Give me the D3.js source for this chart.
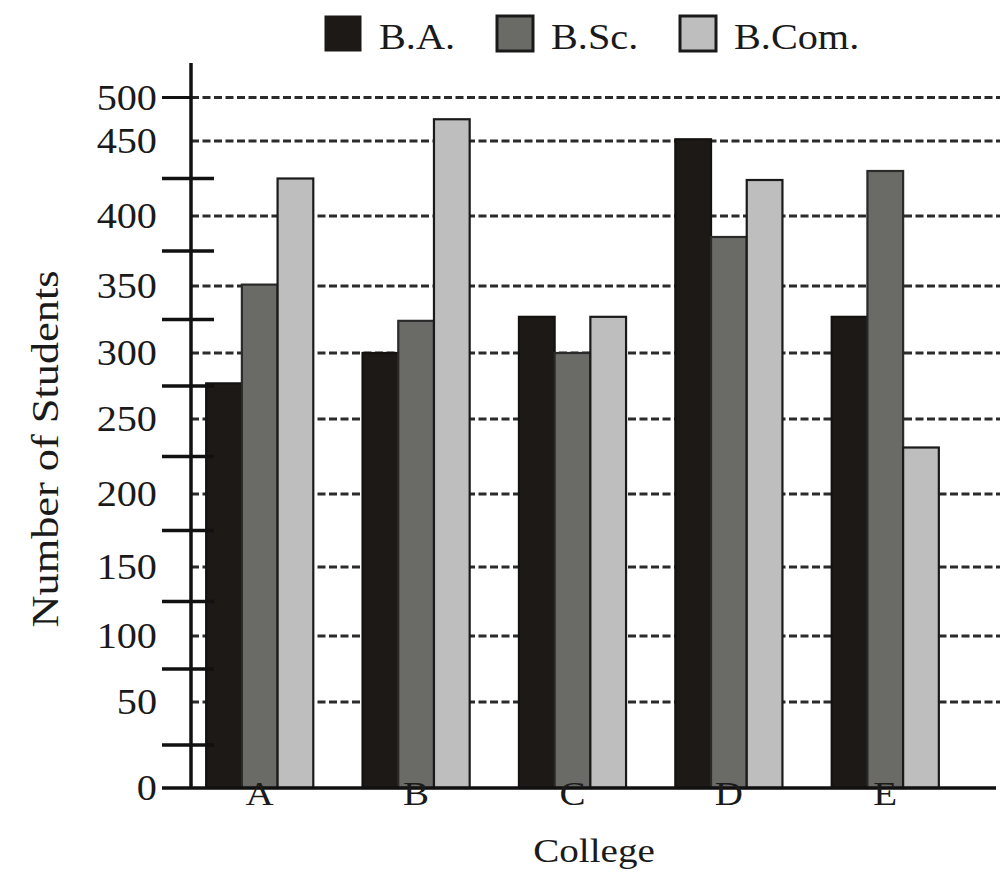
<!DOCTYPE html>
<html>
<head>
<meta charset="utf-8">
<script src="https://cdn.jsdelivr.net/npm/d3@7"></script>
<style>
  html, body { margin: 0; padding: 0; background: #fff; }
  svg { display: block; }
  text { font-family: "Liberation Serif", "Times New Roman", serif; fill: #1a1a1a; }
</style>
</head>
<body>
<svg id="chart" width="1006" height="873"></svg>
<script>
// ---- data ----
const colleges = ["A", "B", "C", "D", "E"];
const seriesNames = ["B.A.", "B.Sc.", "B.Com."];
const baValues   = [277, 300, 327, 452, 327];
const bscValues  = [351, 324, 300, 385, 430];
const bcomValues = [425, 475, 327, 424, 231];
const gridValues = [0, 50, 100, 150, 200, 250, 300, 350, 400, 450, 500];
const tickLabels = ["0", "50", "100", "150", "200", "250", "300", "350", "400", "450", "500"];
const minorTicks = [25, 75, 125, 175, 225, 275, 325, 375, 425];
const yTitle = "Number of Students";
const xTitle = "College";

// ---- layout / style ----
const fills = ["#1d1917", "#6a6a67", "#bebebe"];
const strokes = ["#141210", "#2a2a2a", "#1a1a1a"];
const axisX = 191, baseY = 788, axisTop = 63, rightEdge = 1000;
const sx = 1.15; // horizontal stretch of the lettering
// the reference's vertical axis is unevenly spaced: piecewise linear scale
const gridPixels = [788, 702, 636, 567, 494, 419, 353, 286, 216, 141, 97.5];

const svg = d3.select("#chart");

const y = d3.scaleLinear().domain(gridValues).range(gridPixels);
const x = d3.scaleBand().domain(colleges).range([axisX, 954])
  .paddingInner(0.315).paddingOuter(0.097);
const xs = d3.scaleBand().domain(seriesNames).range([0, x.bandwidth()]);
const allValues = [baValues, bscValues, bcomValues];

function stretchedText(g, tx, ty, str, size, anchor) {
  return g.append("text")
    .attr("transform", `translate(${tx},${ty}) scale(${sx},1)`)
    .attr("text-anchor", anchor || "middle")
    .attr("font-size", size)
    .text(str);
}

// gridlines (dashed) for 50..500
svg.append("g").selectAll("line")
  .data(gridValues.filter(v => v > 0))
  .join("line")
  .attr("x1", axisX).attr("x2", rightEdge)
  .attr("y1", d => y(d)).attr("y2", d => y(d))
  .attr("stroke", "#2b2b2b").attr("stroke-width", 3)
  .attr("stroke-dasharray", "8,3.5");

// bars
const groups = svg.append("g").selectAll("g")
  .data(colleges).join("g")
  .attr("transform", d => `translate(${x(d)},0)`);
groups.selectAll("rect")
  .data((c, i) => seriesNames.map((s, k) => ({ s, k, v: allValues[k][i] })))
  .join("rect")
  .attr("x", d => xs(d.s))
  .attr("width", xs.bandwidth())
  .attr("y", d => y(d.v))
  .attr("height", d => baseY - y(d.v))
  .attr("fill", d => fills[d.k])
  .attr("stroke", d => strokes[d.k])
  .attr("stroke-width", 2.2);

// y axis line
svg.append("line").attr("x1", axisX).attr("x2", axisX)
  .attr("y1", axisTop).attr("y2", baseY + 1)
  .attr("stroke", "#111").attr("stroke-width", 3.5);
// minor ticks crossing the axis
svg.append("g").selectAll("line").data(minorTicks).join("line")
  .attr("x1", 162).attr("x2", 214)
  .attr("y1", d => y(d)).attr("y2", d => y(d))
  .attr("stroke", "#111").attr("stroke-width", 3.5);
// tick at 500 (left only)
svg.append("line").attr("x1", 162).attr("x2", axisX)
  .attr("y1", y(500)).attr("y2", y(500))
  .attr("stroke", "#111").attr("stroke-width", 3);
// x axis line
svg.append("line").attr("x1", 162).attr("x2", 996)
  .attr("y1", baseY).attr("y2", baseY)
  .attr("stroke", "#111").attr("stroke-width", 3.5);

// y tick labels
const yl = svg.append("g");
gridValues.forEach((v, i) => {
  stretchedText(yl, 157, y(v) + 12, tickLabels[i], 35, "end");
});

// x tick labels
const xl = svg.append("g");
colleges.forEach(c => {
  stretchedText(xl, x(c) + x.bandwidth() / 2, 805, c, 34, "middle");
});

// axis titles
stretchedText(svg, 594, 862, xTitle, 34, "middle");
svg.append("text")
  .attr("transform", "translate(58,449) rotate(-90)")
  .attr("text-anchor", "middle")
  .attr("font-size", 37)
  .attr("textLength", 357).attr("lengthAdjust", "spacingAndGlyphs")
  .text(yTitle);

// legend
const legendX = [325, 497, 680];
const leg = svg.append("g");
seriesNames.forEach((s, k) => {
  leg.append("rect").attr("x", legendX[k]).attr("y", 16).attr("width", 36).attr("height", 35)
    .attr("fill", fills[k]).attr("stroke", "#1a1a1a").attr("stroke-width", k === 0 ? 1 : 3);
  stretchedText(leg, legendX[k] + 54, 49, s, 35, "start");
});
</script>
</body>
</html>
